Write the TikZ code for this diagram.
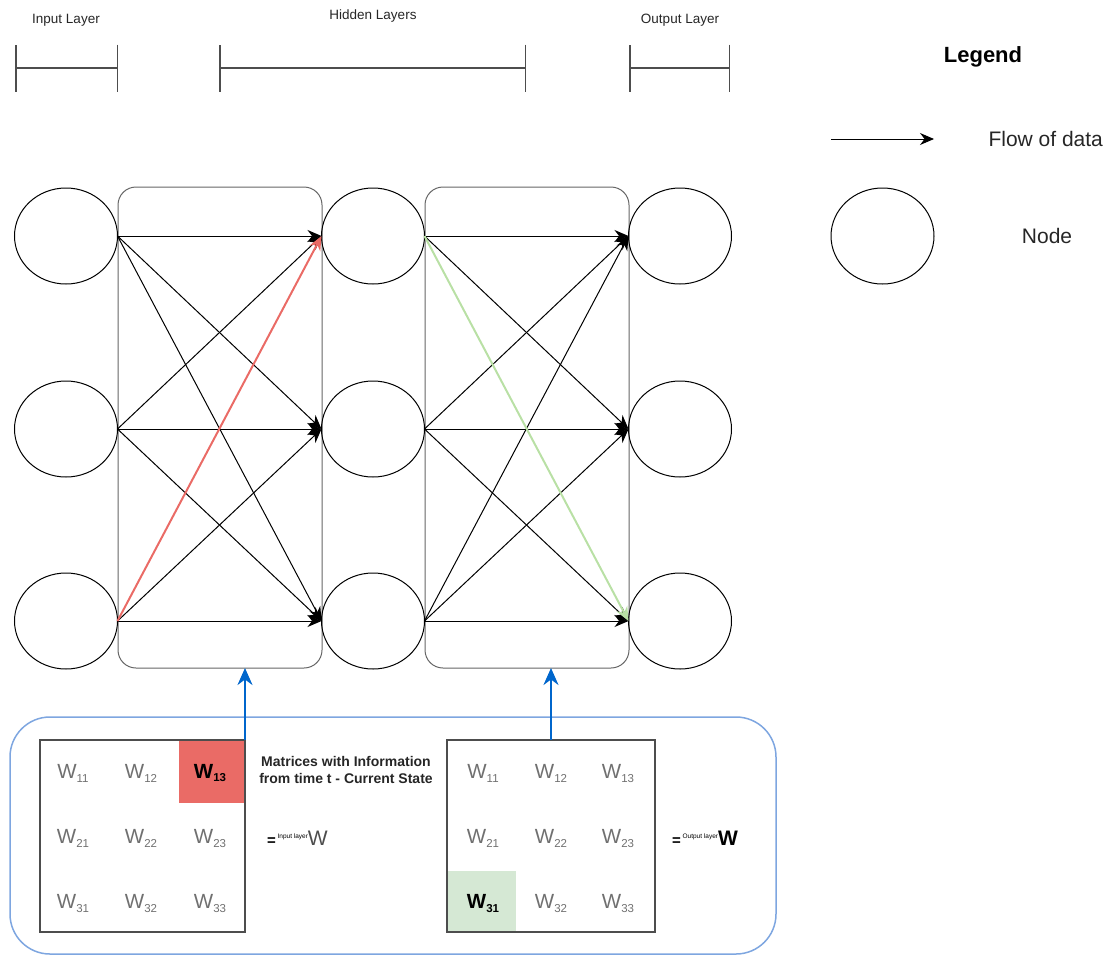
\documentclass[tikz,border=0pt]{standalone}
\usepackage{fontspec}
\setmainfont{Liberation Sans}
\usepackage{tikz}
\usetikzlibrary{positioning}
\usetikzlibrary{shapes.geometric}
\usetikzlibrary{arrows.meta}

\definecolor{wred}{HTML}{EA6B66}
\definecolor{wgreen}{HTML}{B9E0A5}
\definecolor{wcell}{HTML}{D5E8D4}
\definecolor{wblue}{HTML}{0066CC}
\definecolor{wframe}{HTML}{7EA6E0}
\definecolor{wgray}{HTML}{707070}
\definecolor{boxgray}{HTML}{666666}
\definecolor{matgray}{HTML}{4D4D4D}

\newcommand{\wsub}[1]{W\raisebox{-4pt}{\fontsize{11.5}{11.5}\selectfont #1}}

\tikzset{
  neuron/.style={ellipse, draw, line width=1pt, minimum width=103pt, minimum height=96pt, inner sep=0pt, outer sep=0pt},
  layerbox/.style={draw=boxgray, line width=1pt, rounded corners=18pt, minimum width=204pt, minimum height=481pt, inner sep=0pt, outer sep=0pt},
  dataflow/.style={-{Stealth[length=14pt,width=12pt]}, line width=1pt},
  memflow/.style={-{Stealth[length=17pt,width=15pt]}, draw=wblue, line width=2pt},
  layerspan/.style={{Bar[width=47pt]}-{Bar[width=47pt]}, draw=matgray, line width=1.5pt},
  toplabel/.style={font=\fontsize{13.5}{15}\selectfont, text=black!85},
  matbox/.style={draw=matgray, line width=1.5pt, minimum height=192pt, inner sep=0pt, outer sep=0pt},
  entry/.style={font=\fontsize{20.5}{22}\selectfont, text=wgray},
  hicell/.style={inner sep=0pt, outer sep=0pt},
  legendtext/.style={font=\fontsize{21}{24}\selectfont, text=black!85}
}

\begin{document}
\begin{tikzpicture}[x=1pt,y=-1pt]

  \useasboundingbox (0,0) rectangle (1116,956);

  % layer spans on top
  \node[toplabel] (inlbl) at (66,20) {Input Layer};
  \node[toplabel] (hidlbl) at (373,16) {Hidden Layers};
  \node[toplabel] (outlbl) at (680,20) {Output Layer};
  \draw[layerspan] (15,68) -- (118,68);
  \draw[layerspan] (219,68) -- (526,68);
  \draw[layerspan] (629,68) -- (730,68);

  % weight boxes
  \node[layerbox] (B1) at (220,427.5) {};
  \node[layerbox] (B2) at (527,427.5) {};

  % nodes
  \node[neuron] (I1) at (66,236) {};
  \node[neuron] (I2) at (66,429) {};
  \node[neuron] (I3) at (66,621) {};

  \node[neuron] (H1) at (373,236) {};
  \node[neuron] (H2) at (373,429) {};
  \node[neuron] (H3) at (373,621) {};

  \node[neuron] (O1) at (680,236) {};
  \node[neuron] (O2) at (680,429) {};
  \node[neuron] (O3) at (680,621) {};

  % input -> hidden
  \draw[dataflow] (I1.east) -- (H1.west);
  \draw[dataflow] (I1.east) -- (H2.west);
  \draw[dataflow] (I1.east) -- (H3.west);
  \draw[dataflow] (I2.east) -- (H1.west);
  \draw[dataflow] (I2.east) -- (H2.west);
  \draw[dataflow] (I2.east) -- (H3.west);
  \draw[dataflow] (I3.east) -- (H2.west);
  \draw[dataflow] (I3.east) -- (H3.west);
  \draw[dataflow,wred,line width=2pt] (I3.east) -- (H1.west);

  % hidden -> output
  \draw[dataflow] (H1.east) -- (O1.west);
  \draw[dataflow] (H1.east) -- (O2.west);
  \draw[dataflow] (H2.east) -- (O1.west);
  \draw[dataflow] (H2.east) -- (O2.west);
  \draw[dataflow] (H2.east) -- (O3.west);
  \draw[dataflow] (H3.east) -- (O1.west);
  \draw[dataflow] (H3.east) -- (O2.west);
  \draw[dataflow] (H3.east) -- (O3.west);
  \draw[dataflow,wgreen,line width=2pt] (H1.east) -- (O3.west);

  % legend
  \node[font=\fontsize{22}{24}\selectfont\bfseries] (legend) at (983,57) {Legend};
  \coordinate (fl1) at (831,139);
  \coordinate (fl2) at (934,139);
  \draw[dataflow] (fl1) -- (fl2);
  \node[legendtext, anchor=west] (flowlbl) at (985,139) {Flow of data};
  \node[neuron] (Lnode) at (882.5,236) {};
  \node[legendtext] (nodelbl) at (1047,236) {Node};

  % state matrices
  \node[draw=wframe, line width=1.5pt, rounded corners=40pt, minimum width=766pt, minimum height=237pt] (state) at (393,835.5) {};

  \node[hicell, fill=wred, minimum width=66pt, minimum height=63pt] (red13) at (212,771.5) {};
  \node[hicell, fill=wcell, minimum width=69pt, minimum height=61pt] (grn31) at (481.5,901.5) {};

  \node[matbox, minimum width=205pt] (M1) at (142.5,836) {};
  \node[matbox, minimum width=208pt] (M2) at (551,836) {};

  \node[entry] (a11) at (73,773) {\wsub{11}};
  \node[entry] (a12) at (141,773) {\wsub{12}};
  \node[entry, text=black, font=\fontsize{20.5}{22}\selectfont\bfseries] (a13) at (210,773) {\wsub{13}};
  \node[entry] (a21) at (73,838) {\wsub{21}};
  \node[entry] (a22) at (141,838) {\wsub{22}};
  \node[entry] (a23) at (210,838) {\wsub{23}};
  \node[entry] (a31) at (73,903) {\wsub{31}};
  \node[entry] (a32) at (141,903) {\wsub{32}};
  \node[entry] (a33) at (210,903) {\wsub{33}};

  \node[entry] (b11) at (483,773) {\wsub{11}};
  \node[entry] (b12) at (551,773) {\wsub{12}};
  \node[entry] (b13) at (618,773) {\wsub{13}};
  \node[entry] (b21) at (483,838) {\wsub{21}};
  \node[entry] (b22) at (551,838) {\wsub{22}};
  \node[entry] (b23) at (618,838) {\wsub{23}};
  \node[entry, text=black, font=\fontsize{20.5}{22}\selectfont\bfseries] (b31) at (483,903) {\wsub{31}};
  \node[entry] (b32) at (551,903) {\wsub{32}};
  \node[entry] (b33) at (618,903) {\wsub{33}};

  \node[font=\fontsize{14}{17}\selectfont\bfseries, align=center, text=black!85] (note) at (346,770) {Matrices with Information\\from time t - Current State};
  \node[anchor=west, inner sep=0pt] (inW) at (267,838) {{\fontsize{15}{15}\selectfont\bfseries =}\,\raisebox{7pt}{\fontsize{6.5}{6.5}\selectfont Input layer}{\fontsize{21}{21}\selectfont\color{matgray}W}};
  \node[anchor=west, inner sep=0pt] (outW) at (672,838) {{\fontsize{15}{15}\selectfont\bfseries =}\,\raisebox{7pt}{\fontsize{6.5}{6.5}\selectfont Output layer}{\fontsize{21}{21}\selectfont\bfseries W}};

  % state feeds the weights
  \draw[memflow] (M1.north east) -- (M1.north east |- B1.south);
  \draw[memflow] (M2.north) -- (M2.north |- B2.south);

\end{tikzpicture}
\end{document}
